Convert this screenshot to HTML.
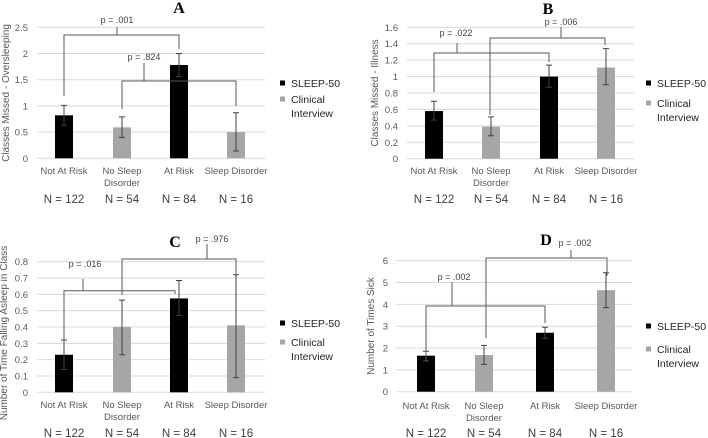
<!DOCTYPE html>
<html><head><meta charset="utf-8"><style>
body{margin:0;background:#fff;}
svg{display:block;font-family:"Liberation Sans",sans-serif;}
</style></head><body>
<svg id="fig" width="708" height="438" viewBox="0 0 708 438"></svg>
<script>
const categories = ["Not At Risk", "No Sleep|Disorder", "At Risk", "Sleep Disorder"];
const nLabels = ["N = 122", "N = 54", "N = 84", "N = 16"];
const seriesNames = ["SLEEP-50", "Clinical Interview"];
const seriesOfBar = [0, 1, 0, 1];
const valuesA = [0.82, 0.59, 1.78, 0.5];
const lowA = [0.63, 0.40, 1.56, 0.14];
const highA = [1.01, 0.79, 2.0, 0.87];
const ticksA = [0, 0.5, 1, 1.5, 2, 2.5];
const valuesB = [0.58, 0.39, 1.0, 1.11];
const lowB = [0.47, 0.28, 0.87, 0.90];
const highB = [0.70, 0.51, 1.14, 1.34];
const ticksB = [0, 0.2, 0.4, 0.6, 0.8, 1, 1.2, 1.4, 1.6];
const valuesC = [0.23, 0.40, 0.575, 0.41];
const lowC = [0.14, 0.23, 0.47, 0.09];
const highC = [0.32, 0.565, 0.685, 0.72];
const ticksC = [0, 0.1, 0.2, 0.3, 0.4, 0.5, 0.6, 0.7, 0.8];
const valuesD = [1.65, 1.68, 2.7, 4.65];
const lowD = [1.42, 1.25, 2.45, 3.85];
const highD = [1.85, 2.12, 2.95, 5.45];
const ticksD = [0, 1, 2, 3, 4, 5, 6];

const NS = "http://www.w3.org/2000/svg";
const svg = document.getElementById("fig");
function mk(tag, attrs, parent, text){
  const e = document.createElementNS(NS, tag);
  for (const k in attrs) e.setAttribute(k, attrs[k]);
  if (text !== undefined) e.textContent = text;
  (parent || svg).appendChild(e);
  return e;
}
const colors = ["#000000", "#a6a6a6"];

function panel(cfg){
  const g = mk("g", {});
  
  
  const y = v => cfg.y0 - (v - cfg.tmin) / (cfg.tmax - cfg.tmin) * (cfg.y0 - cfg.y1);
  // grid + ticks
  cfg.ticks.forEach(t => {
    const gl = mk("line", {x1: cfg.gx0, x2: cfg.gx1, y1: y(t), y2: y(t), stroke: "#d9d9d9", "stroke-width": 1}, g);
    
    
    const tl = mk("text", {x: cfg.tx, y: y(t) + 3.5, "text-anchor": "end", "font-size": 9.5, fill: "#595959"}, g, String(t));
    
    
  });
  // bars
  cfg.values.forEach((v, i) => {
    const cx = cfg.cx[i];
    const b = mk("rect", {x: cx - 9, y: y(v), width: 18, height: y(cfg.tmin) - y(v), fill: colors[seriesOfBar[i]]}, g);
    
    
    const eb = mk("path", {d: `M${cx},${y(cfg.low[i])}V${y(cfg.high[i])}M${cx-3},${y(cfg.low[i])}h6M${cx-3},${y(cfg.high[i])}h6`, stroke: "#404040", "stroke-width": 1, fill: "none"}, g);
    
    
    const parts = categories[i].split("|");
    parts.forEach((p, k) => {
      const cl = mk("text", {x: cx, y: cfg.ly + k * 12, "text-anchor": "middle", "font-size": 9.5, fill: "#595959"}, g, p);
      
      
    });
    const nl = mk("text", {x: cx + (cfg.nOff ? cfg.nOff[i] : 0), y: cfg.ny, "text-anchor": "middle", "font-size": 11.5, fill: "#404040"}, g, nLabels[i]);
    
    
  });
  // axis title
  const at = mk("text", {x: 0, y: 0, transform: `translate(${cfg.ax},${cfg.ay}) rotate(-90)`, "text-anchor": "middle", "font-size": 10, fill: "#595959"}, g, cfg.ytitle);
  
  
  // panel letter
  const pt = mk("text", {x: cfg.lx, y: cfg.lyy, "text-anchor": "middle", "font-size": 16, "font-weight": "bold", "font-family": "Liberation Serif, serif", fill: "#000"}, g, cfg.id);
  
  
  // brackets
  cfg.brackets.forEach(br => {
    const p = mk("path", {d: `M${br.x1},${br.l1}V${br.h}H${br.x2}V${br.l2}M${br.cx},${br.h}V${br.top}`, stroke: "#595959", "stroke-width": 1, fill: "none"}, g);
    
    
    const t = mk("text", {x: br.tx, y: br.ty, "text-anchor": "middle", "font-size": 9, fill: "#404040"}, g, br.label);
    
    
  });
  // legend
  seriesNames.forEach((s, k) => {
    const sy = cfg.legY[k];
    const sq = mk("rect", {x: cfg.legX, y: sy - 2.5, width: 5, height: 5, fill: colors[k]}, g);
    
    
    const words = s === "Clinical Interview" ? ["Clinical", "Interview"] : [s];
    words.forEach((w, j) => {
      const lt = mk("text", {x: cfg.legX + 11, y: sy + 4 + j * 14, "font-size": 10.5, fill: "#262626"}, g, w);
      
      
    });
  });
}

panel({id: "A", values: valuesA, low: lowA, high: highA, ticks: ticksA, tmin: 0, tmax: 2.5,
  y0: 158.3, y1: 27.3, gx0: 37, gx1: 265, tx: 28, cx: [64, 122, 179, 236], ly: 174, ny: 203,
  ytitle: "Classes Missed - Oversleeping", ax: 9, ay: 93, lx: 179, lyy: 13, legX: 280, legY: [83, 99],
  brackets: [
    {x1: 64, x2: 179, h: 35, l1: 96, l2: 49, cx: 117, top: 27, tx: 117, ty: 23, label: "p = .001"},
    {x1: 122, x2: 236, h: 81, l1: 109, l2: 106, cx: 144, top: 63, tx: 144, ty: 60, label: "p = .824"}
  ]});
panel({id: "B", values: valuesB, low: lowB, high: highB, ticks: ticksB, tmin: 0, tmax: 1.6,
  y0: 158.7, y1: 27.3, gx0: 407, gx1: 634, tx: 398, cx: [434, 491, 549, 606], ly: 174, ny: 203,
  ytitle: "Classes Missed - Illness", ax: 378, ay: 93, lx: 548, lyy: 14, legX: 646, legY: [83, 103],
  brackets: [
    {x1: 434, x2: 549, h: 53, l1: 92, l2: 62, cx: 457, top: 43, tx: 456, ty: 36, label: "p = .022"},
    {x1: 490, x2: 605, h: 38, l1: 115, l2: 45, cx: 561, top: 27, tx: 561, ty: 25, label: "p = .006"}
  ]});
panel({id: "C", values: valuesC, low: lowC, high: highC, ticks: ticksC, tmin: 0, tmax: 0.8,
  y0: 392.3, y1: 261.7, gx0: 37, gx1: 265, tx: 28, cx: [64, 122, 179, 236], ly: 408, ny: 437,
  ytitle: "Number of Time Falling Asleep in Class", ax: 7, ay: 333, lx: 175, lyy: 247, legX: 280, legY: [323, 342],
  brackets: [
    {x1: 64, x2: 175, h: 290.7, l1: 342, l2: 294, cx: 83, top: 279, tx: 85, ty: 267, label: "p = .016"},
    {x1: 122, x2: 236, h: 259, l1: 295, l2: 275, cx: 207, top: 244, tx: 212, ty: 242, label: "p = .976"}
  ]});
panel({id: "D", values: valuesD, low: lowD, high: highD, ticks: ticksD, tmin: 0, tmax: 6,
  y0: 391.7, y1: 260.7, gx0: 396, gx1: 632, tx: 388, cx: [426, 484, 545, 606], ly: 409, ny: 437,
  ytitle: "Number of Times Sick", ax: 374, ay: 326, lx: 546, lyy: 245, legX: 646, legY: [326, 349],
  brackets: [
    {x1: 426, x2: 545, h: 306, l1: 362, l2: 323, cx: 452, top: 282, tx: 454, ty: 280, label: "p = .002"},
    {x1: 486, x2: 607, h: 258, l1: 338, l2: 276, cx: 571, top: 250, tx: 575, ty: 246, label: "p = .002"}
  ]});
</script>
</body></html>
